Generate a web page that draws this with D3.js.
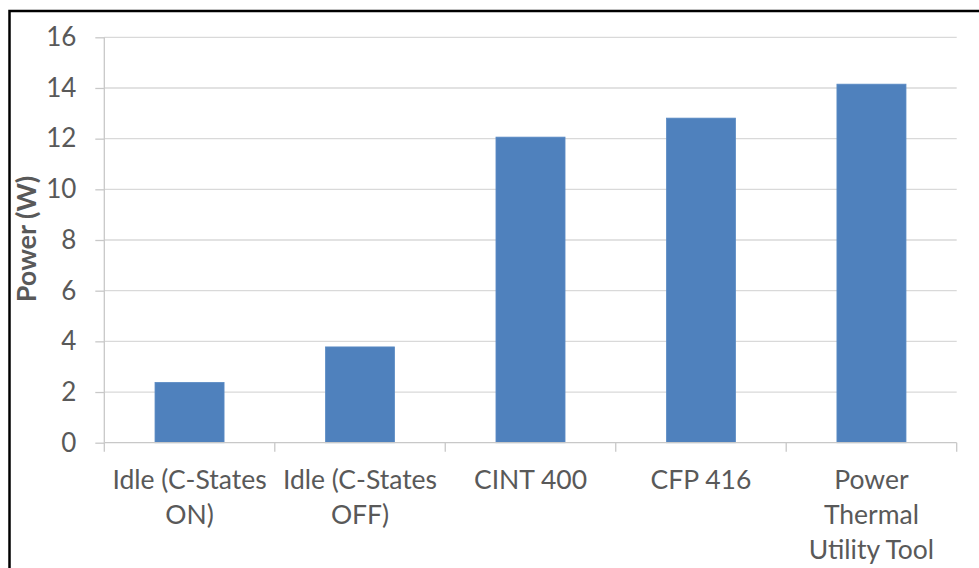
<!DOCTYPE html>
<html>
<head>
<meta charset="utf-8">
<script src="https://cdn.jsdelivr.net/npm/d3@7"></script>
<style>
  html, body { margin: 0; padding: 0; background: #fff; }
  svg { display: block; }
  text { font-family: Lato, "Open Sans", sans-serif; fill: #595959; }
</style>
</head>
<body>
<svg id="chart" width="979" height="568"></svg>
<script>
// Power draw per workload
const categories = ["Idle (C-States ON)", "Idle (C-States OFF)", "CINT 400", "CFP 416", "Power Thermal Utility Tool"];
const powerWatts = [2.38, 3.78, 12.06, 12.81, 14.15];
const yTicks = [0, 2, 4, 6, 8, 10, 12, 14, 16];
const yTitle = "Power (W)";

const W = 979, H = 568;
const plot = { left: 104.3, right: 956.7, top: 37.3, bottom: 442.7 };

const svg = d3.select("#chart");

// outer frame
svg.append("rect")
  .attr("x", 9.5).attr("y", 11)
  .attr("width", W + 20).attr("height", H + 20)
  .attr("fill", "#fff").attr("stroke", "#000").attr("stroke-width", 2.5);

const x = d3.scaleBand()
  .domain(categories)
  .range([plot.left, plot.right])
  .paddingInner(0.595)
  .paddingOuter(0.2975);

const y = d3.scaleLinear()
  .domain([0, 16])
  .range([plot.bottom, plot.top]);

// horizontal gridlines
svg.append("g").selectAll("line")
  .data(yTicks.filter(t => t > 0))
  .join("line")
  .attr("x1", plot.left).attr("x2", plot.right)
  .attr("y1", d => y(d)).attr("y2", d => y(d))
  .attr("stroke", "#d9d9d9").attr("stroke-width", 1.3);

// bars
svg.append("g").selectAll("rect")
  .data(categories)
  .join("rect")
  .attr("x", d => x(d))
  .attr("width", x.bandwidth())
  .attr("y", (d, i) => y(powerWatts[i]))
  .attr("height", (d, i) => y(0) - y(powerWatts[i]))
  .attr("fill", "#4f81bd")
  .attr("stroke", "#5b8bc4").attr("stroke-width", 0.8);

// y axis
const yAxis = d3.axisLeft(y)
  .tickValues(yTicks)
  .tickSize(9)
  .tickPadding(19)
  .tickFormat(d3.format("d"));
const gy = svg.append("g")
  .attr("transform", `translate(${plot.left},0)`)
  .call(yAxis);
gy.select(".domain").attr("stroke", "#c8c8c8").attr("stroke-width", 1.3)
  .attr("d", `M0,${plot.top}V${plot.bottom}`);
gy.selectAll(".tick line").attr("stroke", "#c8c8c8").attr("stroke-width", 1.3);
gy.selectAll(".tick text")
  .attr("font-size", 26)
  .attr("fill", "#595959")
  .style("font-family", "Lato, sans-serif");

// x axis: category boundary ticks and wrapped labels
const step = x.step();
const bounds = d3.range(categories.length + 1).map(i => plot.left + i * step);
const gx = svg.append("g");
gx.append("line")
  .attr("x1", plot.left).attr("x2", plot.right)
  .attr("y1", plot.bottom).attr("y2", plot.bottom)
  .attr("stroke", "#c8c8c8").attr("stroke-width", 1.3);
gx.selectAll("line.tk")
  .data(bounds)
  .join("line")
  .attr("class", "tk")
  .attr("x1", d => d).attr("x2", d => d)
  .attr("y1", plot.bottom).attr("y2", plot.bottom + 9)
  .attr("stroke", "#c8c8c8").attr("stroke-width", 1.3);

const labelSize = 26.5;
const lineGap = 35;
const maxWidth = 165;
const labels = gx.selectAll("text.cat")
  .data(categories)
  .join("text")
  .attr("class", "cat")
  .attr("text-anchor", "middle")
  .attr("font-size", labelSize)
  .attr("x", d => x(d) + x.bandwidth() / 2)
  .attr("y", 489);

labels.each(function (d) {
  const t = d3.select(this);
  const cx = x(d) + x.bandwidth() / 2;
  const words = d.split(" ");
  let lines = [], cur = [];
  const probe = t.append("tspan");
  words.forEach(w => {
    const test = cur.concat(w).join(" ");
    probe.text(test);
    if (cur.length && probe.node().getComputedTextLength() > maxWidth) {
      lines.push(cur.join(" "));
      cur = [w];
    } else {
      cur.push(w);
    }
  });
  lines.push(cur.join(" "));
  probe.remove();
  lines.forEach((ln, i) => {
    t.append("tspan").attr("x", cx).attr("dy", i === 0 ? 0 : lineGap).text(ln);
  });
});

// y axis title
svg.append("text")
  .attr("transform", `translate(36,${(plot.top + plot.bottom) / 2 - 1}) rotate(-90)`)
  .attr("text-anchor", "middle")
  .attr("font-size", 27)
  .attr("font-weight", "bold")
  .attr("fill", "#595959")
  .text(yTitle);
</script>
</body>
</html>
